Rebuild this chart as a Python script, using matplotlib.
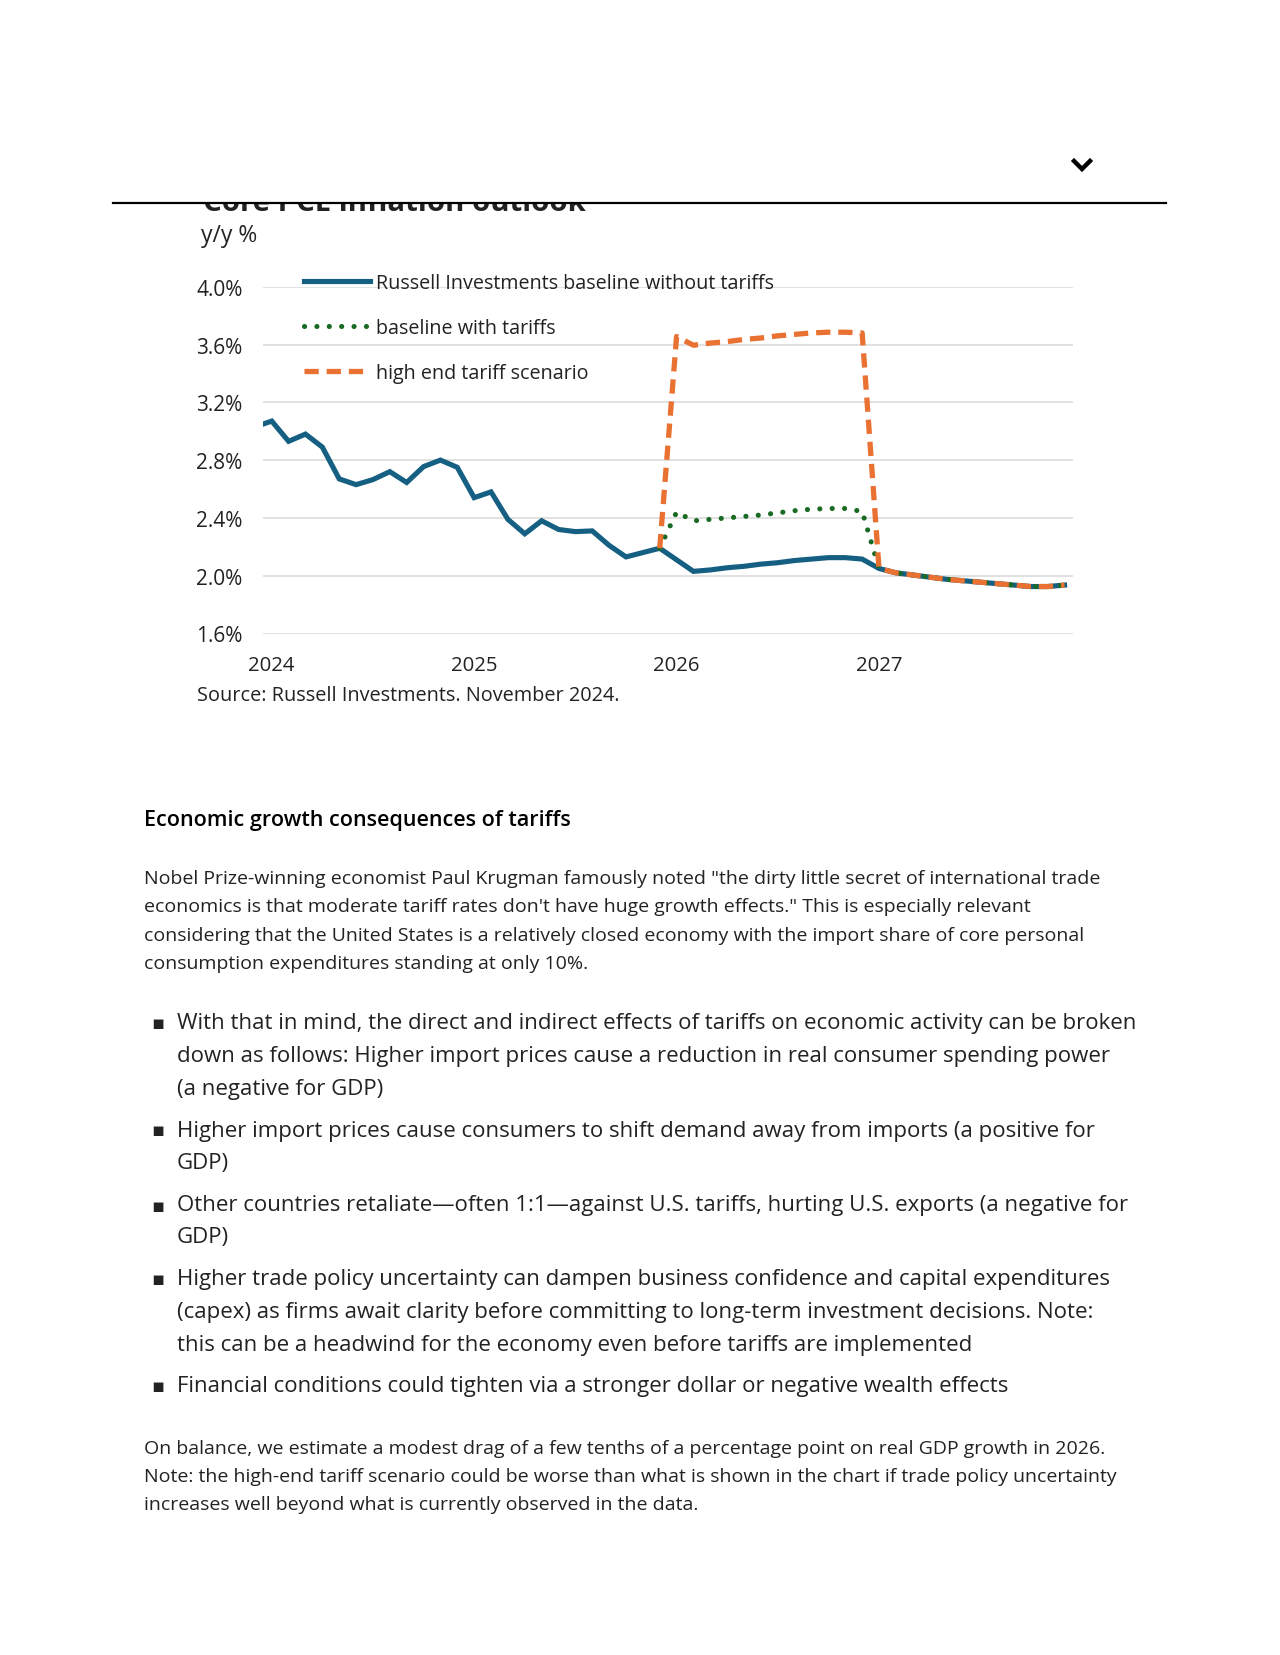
import numpy as np
import matplotlib
matplotlib.use("Agg")
import matplotlib.pyplot as plt
from matplotlib.lines import Line2D
from matplotlib.patches import Rectangle

# month index: 0 = Jan 2024, -1 = Dec 2023 (partly cut by the axis)
months = np.arange(-1, 48)
baseline = [3.03, 3.07, 2.93, 2.98, 2.89, 2.67, 2.63, 2.665, 2.72, 2.645, 2.755, 2.80,
            2.75, 2.54, 2.58, 2.39, 2.29, 2.38, 2.32, 2.305, 2.31, 2.21, 2.13, 2.16,
            2.19, 2.11, 2.03, 2.04, 2.055, 2.065, 2.08, 2.09, 2.105, 2.115, 2.125, 2.125,
            2.115, 2.05, 2.02, 2.005, 1.99, 1.975, 1.965, 1.955, 1.945, 1.935, 1.925,
            1.925, 1.935]
# tariff scenarios start from Dec 2025
tariff_months = np.arange(23, 48)
with_tariffs = [2.19, 2.44, 2.38, 2.39, 2.40, 2.41, 2.42, 2.435, 2.45, 2.46, 2.465,
                2.465, 2.445] + baseline[37:]
high_end = [2.19, 3.655, 3.595, 3.61, 3.62, 3.635, 3.645, 3.66, 3.67, 3.68, 3.685,
            3.685, 3.68] + baseline[37:]

year_ticks = [0, 12, 24, 36]
year_labels = ["2024", "2025", "2026", "2027"]
y_ticks = [1.6, 2.0, 2.4, 2.8, 3.2, 3.6, 4.0]

series_names = ["Russell Investments baseline without tariffs",
                "baseline with tariffs",
                "high end tariff scenario"]

heading = "Economic growth consequences of tariffs"
para1 = ["Nobel Prize-winning economist Paul Krugman famously noted \"the dirty little secret of international trade",
         "economics is that moderate tariff rates don't have huge growth effects.\" This is especially relevant",
         "considering that the United States is a relatively closed economy with the import share of core personal",
         "consumption expenditures standing at only 10%."]
bullets = [["With that in mind, the direct and indirect effects of tariffs on economic activity can be broken",
            "down as follows: Higher import prices cause a reduction in real consumer spending power",
            "(a negative for GDP)"],
           ["Higher import prices cause consumers to shift demand away from imports (a positive for",
            "GDP)"],
           ["Other countries retaliate\u2014often 1:1\u2014against U.S. tariffs, hurting U.S. exports (a negative for",
            "GDP)"],
           ["Higher trade policy uncertainty can dampen business confidence and capital expenditures",
            "(capex) as firms await clarity before committing to long-term investment decisions. Note:",
            "this can be a headwind for the economy even before tariffs are implemented"],
           ["Financial conditions could tighten via a stronger dollar or negative wealth effects"]]
para2 = ["On balance, we estimate a modest drag of a few tenths of a percentage point on real GDP growth in 2026.",
         "Note: the high-end tariff scenario could be worse than what is shown in the chart if trade policy uncertainty",
         "increases well beyond what is currently observed in the data."]

blue = "#156082"
green = "#196B24"
orange = "#E97132"
txt = "#222222"

W, H = 1280, 1656
def fx(x):
    return x / W
def fy(y):
    return 1 - y / H

chart_font = "Open Sans"
body_font = "Open Sans"

fig = plt.figure(figsize=(12.8, 16.56), dpi=100)
fig.patch.set_facecolor("white")

# chart
ax = fig.add_axes([fx(263.3), fy(634.5), fx(1073) - fx(263.3), fy(287.7) - fy(634.5)])
ax.plot(months, baseline, color=blue, lw=3.7, solid_joinstyle="miter", zorder=3,
        label=series_names[0])
ax.plot(tariff_months, with_tariffs, color=green, lw=3.7, linestyle=(0, (0.01, 2.4)),
        dash_capstyle="round", zorder=4, label=series_names[1])
ax.plot(tariff_months, high_end, color=orange, lw=3.8, linestyle=(0, (2.7, 1.5)),
        dash_capstyle="butt", zorder=5, label=series_names[2])

ax.set_xlim(-0.5, 47.5)
ax.set_ylim(1.6, 4.0)
ax.set_yticks(y_ticks)
ax.set_yticklabels([f"{v:.1f}%" for v in y_ticks])
ax.set_xticks(year_ticks)
ax.set_xticklabels(year_labels)
ax.grid(axis="y", color="#d9d9d9", lw=1.1)
ax.set_axisbelow(True)
for s in ax.spines.values():
    s.set_visible(False)
ax.tick_params(axis="y", length=0, pad=15, labelsize=15, labelcolor=txt)
ax.tick_params(axis="x", length=0, pad=15.5, labelsize=14.7, labelcolor=txt)
for lab in ax.get_xticklabels() + ax.get_yticklabels():
    lab.set_fontfamily(chart_font)

leg = ax.legend(loc="upper left", bbox_to_anchor=(fx(304), fy(274)),
                bbox_transform=fig.transFigure, frameon=False,
                handlelength=3.35, handletextpad=0.32, labelspacing=1.27,
                borderpad=0, borderaxespad=0, prop={"family": chart_font, "size": 14.2})
for t in leg.get_texts():
    t.set_color(txt)

fig.text(fx(229), fy(236), "y/y %", fontsize=16.5, family=chart_font, color=txt,
         ha="center", va="center")
fig.text(fx(197), fy(696), "Source: Russell Investments. November 2024.", fontsize=14.3,
         family=chart_font, color=txt, ha="left", va="center")

# clipped title under the sticky header
fig.text(fx(203), fy(211), "Core PCE inflation outlook", fontsize=21.2, weight="bold",
         family=chart_font, color=txt, ha="left", va="baseline", zorder=1)
fig.add_artist(Rectangle((0, fy(204)), 1, 1 - fy(204), transform=fig.transFigure,
                         facecolor="white", edgecolor="none", zorder=2))
fig.add_artist(Line2D([fx(113), fx(1166)], [fy(204), fy(204)], color="black", lw=1.6,
                      zorder=3))
fig.add_artist(Line2D([fx(1074), fx(1082), fx(1090)], [fy(162), fy(170), fy(162)],
                      color="black", lw=3.2, solid_joinstyle="miter", zorder=3))

# article text
fig.text(fx(144.5), fy(821), heading, fontsize=15.5, weight="semibold", family=body_font,
         color="black", ha="left", va="center")
for i, line in enumerate(para1):
    fig.text(fx(144.5), fy(879 + 28.5 * i), line, fontsize=14.0, family=body_font,
             color=txt, ha="left", va="center")

bullet_rows = [[1024, 1057, 1089], [1131, 1163.5], [1206, 1237.5],
               [1280, 1312.5, 1345], [1387]]
for rows, lines in zip(bullet_rows, bullets):
    fig.text(fx(158), fy(rows[0]), "\u25aa", fontsize=14, family="DejaVu Sans",
             color=txt, ha="center", va="center")
    for y, line in zip(rows, lines):
        fig.text(fx(177), fy(y), line, fontsize=16.0, family=body_font, color=txt,
                 ha="left", va="center")

for i, line in enumerate(para2):
    fig.text(fx(144.5), fy(1448.5 + 28.4 * i), line, fontsize=14.0, family=body_font,
             color=txt, ha="left", va="center")

fig.savefig("out.png", dpi=100, facecolor="white")
